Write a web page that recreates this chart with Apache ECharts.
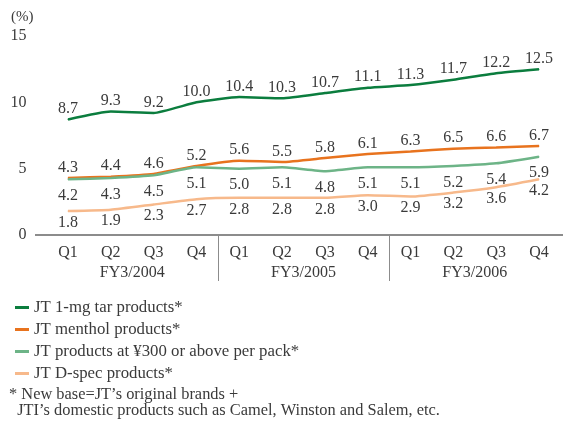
<!DOCTYPE html>
<html>
<head>
<meta charset="utf-8">
<script src="https://cdn.jsdelivr.net/npm/echarts@6/dist/echarts.min.js"></script>
<style>
  html, body { margin: 0; padding: 0; background: #fff; }
  #chart { width: 564px; height: 422px; }
</style>
</head>
<body>
<div id="chart"></div>
<script>
"use strict";

var quarters = ["Q1", "Q2", "Q3", "Q4", "Q1", "Q2", "Q3", "Q4", "Q1", "Q2", "Q3", "Q4"];
var fiscalYears = ["FY3/2004", "FY3/2005", "FY3/2006"];
var yTicks = [0, 5, 10, 15];

var tar1mg = [8.7, 9.3, 9.2, 10.0, 10.4, 10.3, 10.7, 11.1, 11.3, 11.7, 12.2, 12.5];
var menthol = [4.3, 4.4, 4.6, 5.2, 5.6, 5.5, 5.8, 6.1, 6.3, 6.5, 6.6, 6.7];
var over300 = [4.2, 4.3, 4.5, 5.1, 5.0, 5.1, 4.8, 5.1, 5.1, 5.2, 5.4, 5.9];
var dspec = [1.8, 1.9, 2.3, 2.7, 2.8, 2.8, 2.8, 3.0, 2.9, 3.2, 3.6, 4.2];

var seriesNames = [
  "JT 1-mg tar products*",
  "JT menthol products*",
  "JT products at \u00a5300 or above per pack*",
  "JT D-spec products*"
];

var FONT = "'Liberation Serif', 'DejaVu Serif', serif";
var TEXT = "#3a3a3a";

var chart = echarts.init(document.getElementById("chart"));

function makeSeries(name, data, color, pos, dist) {
  return {
    name: name,
    type: "line",
    data: data,
    showSymbol: true,
    symbol: "circle",
    symbolSize: 1,
    smooth: 0.15,
    lineStyle: { color: color, width: 2.5 },
    itemStyle: { color: color },
    label: {
      show: true,
      position: pos,
      distance: dist,
      fontFamily: FONT,
      fontSize: 16,
      color: TEXT,
      formatter: function (p) { return p.value.toFixed(1); }
    },
    labelLayout: { hideOverlap: false },
    z: 3
  };
}

var option = {
  animation: false,
  backgroundColor: "#fff",
  title: {
    text: "(%)",
    left: 6,
    top: 5,
    textStyle: { fontFamily: FONT, fontSize: 15, fontWeight: "normal", color: TEXT }
  },
  grid: { left: 46.6, right: 3.6, top: 36, bottom: 187, containLabel: false },
  legend: {
    orient: "vertical",
    left: 10,
    top: 294,
    icon: "rect",
    itemWidth: 14,
    itemHeight: 3,
    itemGap: 5,
    data: seriesNames,
    textStyle: { fontFamily: FONT, fontSize: 16.8, color: TEXT, lineHeight: 16 }
  },
  xAxis: [{
    type: "category",
    data: quarters,
    boundaryGap: true,
    axisLine: { show: false },
    axisTick: { show: false },
    axisLabel: { margin: 10, fontFamily: FONT, fontSize: 16, color: TEXT }
  }, {
    type: "category",
    data: fiscalYears,
    position: "bottom",
    offset: 20,
    boundaryGap: true,
    axisLine: { show: false },
    axisTick: { show: false },
    axisLabel: { margin: 10, fontFamily: FONT, fontSize: 16, color: TEXT }
  }],
  yAxis: {
    type: "value",
    min: yTicks[0],
    max: yTicks[yTicks.length - 1],
    interval: 5,
    splitLine: { show: false },
    axisLine: { show: false },
    axisTick: { show: false },
    axisLabel: { margin: 20, fontFamily: FONT, fontSize: 16, color: TEXT }
  },
  series: [
    makeSeries(seriesNames[0], tar1mg, "#0b7d3e", "top", 2),
    makeSeries(seriesNames[1], menthol, "#e8731e", "top", 2),
    makeSeries(seriesNames[2], over300, "#6db487", "bottom", 8),
    makeSeries(seriesNames[3], dspec, "#f7b98b", "bottom", 3)
  ]
};

chart.setOption(option);

// axis line, year dividers and footnote
function drawExtras() {
  var y0 = chart.convertToPixel({ yAxisIndex: 0 }, 0);
  var dividers = [];
  [3, 7].forEach(function (i) {
    var xa = chart.convertToPixel({ xAxisIndex: 0 }, i);
    var xb = chart.convertToPixel({ xAxisIndex: 0 }, i + 1);
    var x = Math.round((xa + xb) / 2) + 0.5;
    dividers.push({
      type: "line",
      shape: { x1: x, y1: y0, x2: x, y2: y0 + 46 },
      style: { stroke: "#8c8c8c", lineWidth: 1 }
    });
  });
  chart.setOption({
    graphic: [{
      type: "line",
      shape: { x1: 35, y1: y0, x2: 563, y2: y0 },
      style: { stroke: "#8c8c8c", lineWidth: 2 }
    }].concat(dividers).concat([{
      type: "text",
      left: 9,
      top: 387,
      style: {
        text: "* New base=JT\u2019s original brands +\n  JTI\u2019s domestic products such as Camel, Winston and Salem, etc.",
        fontFamily: FONT,
        fontSize: 16.4,
        lineHeight: 16,
        fill: TEXT
      }
    }])
  });
}

drawExtras();
</script>
</body>
</html>
